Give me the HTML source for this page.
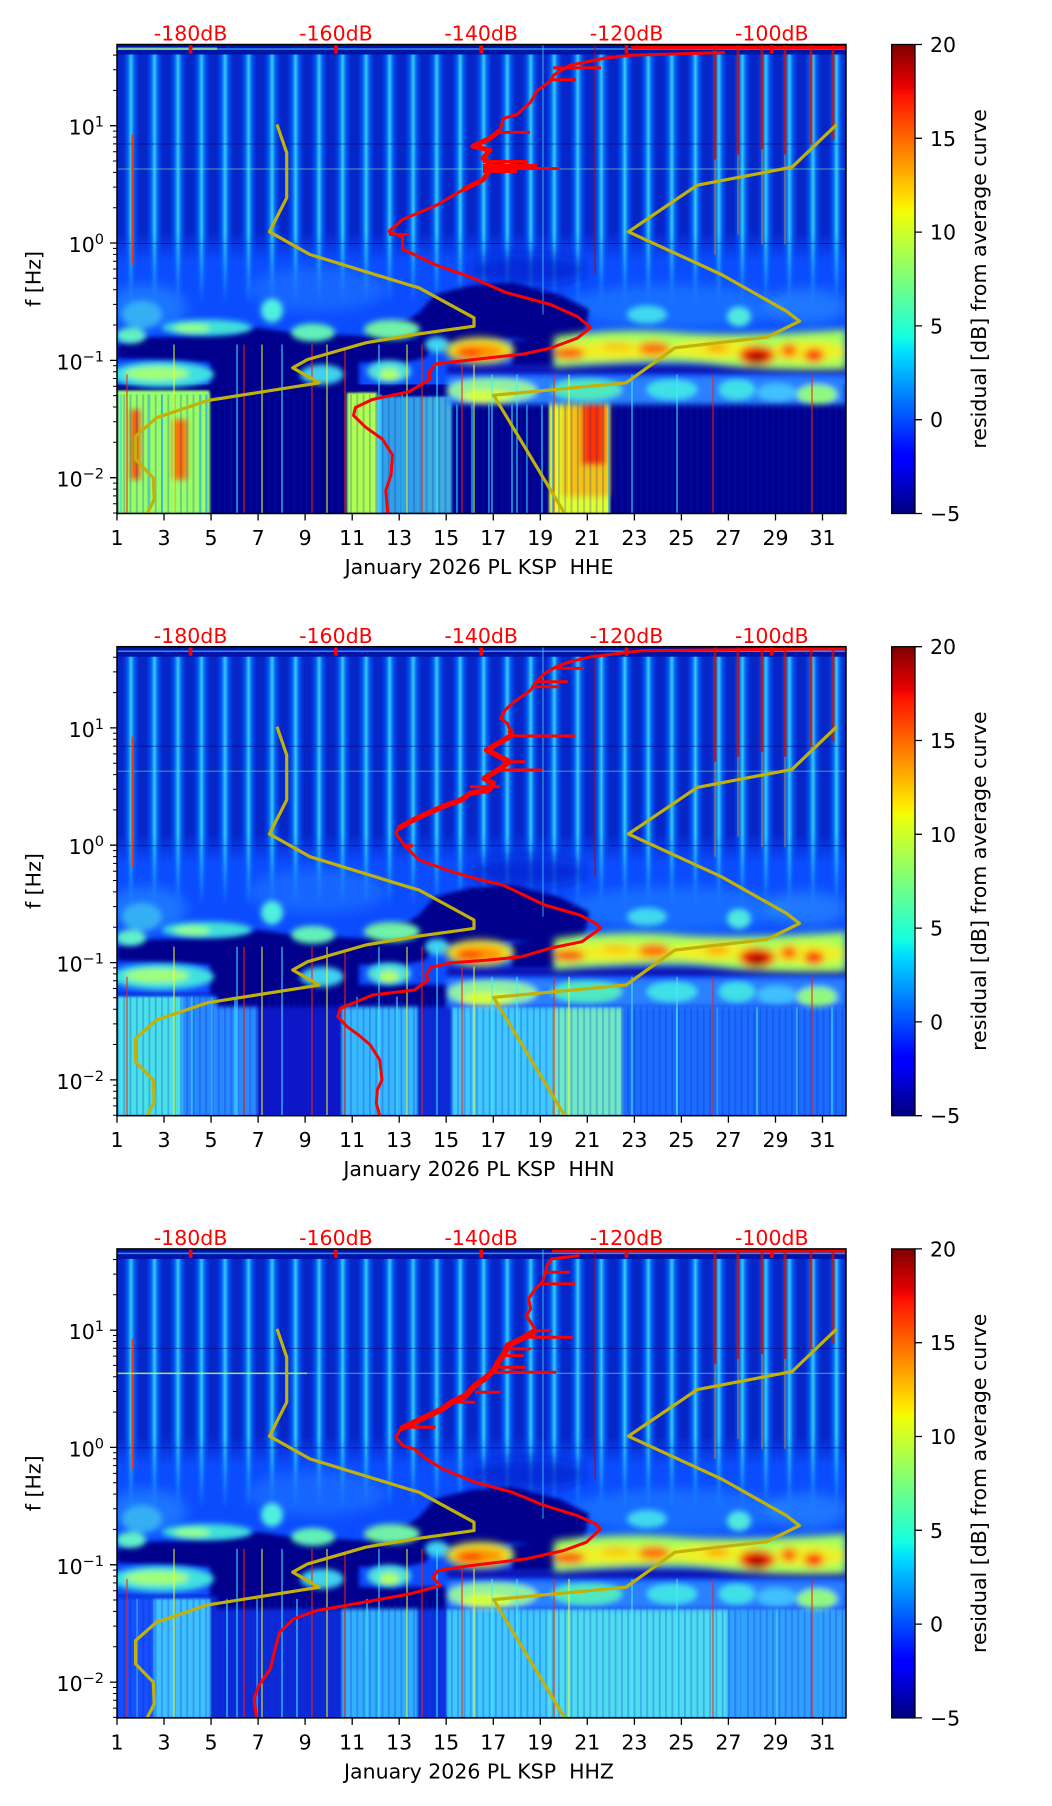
<!DOCTYPE html>
<html><head><meta charset="utf-8">
<style>
html,body{margin:0;padding:0;background:#fff}
svg{display:block}
text{font-family:"DejaVu Sans","Liberation Sans",sans-serif;font-size:20.5px;fill:#000}
</style></head>
<body>
<svg xmlns="http://www.w3.org/2000/svg" width="1052" height="1806" viewBox="0 0 1052 1806">
<defs>
  <linearGradient id="jet" x1="0" y1="1" x2="0" y2="0">
    <stop offset="0" stop-color="#00007f"/>
    <stop offset="0.11" stop-color="#0000ff"/>
    <stop offset="0.125" stop-color="#0000ff"/>
    <stop offset="0.34" stop-color="#00dbff"/>
    <stop offset="0.35" stop-color="#00e5f8"/>
    <stop offset="0.375" stop-color="#14ffe2"/>
    <stop offset="0.5" stop-color="#7bff7b"/>
    <stop offset="0.64" stop-color="#efff08"/>
    <stop offset="0.66" stop-color="#ffeb00"/>
    <stop offset="0.89" stop-color="#ff1300"/>
    <stop offset="0.91" stop-color="#e80000"/>
    <stop offset="1" stop-color="#7f0000"/>
  </linearGradient>
  <linearGradient id="sg" x1="0" y1="0" x2="1" y2="0">
    <stop offset="0" stop-color="#0040ff" stop-opacity="0"/>
    <stop offset="0.3" stop-color="#0070ff" stop-opacity="0.7"/>
    <stop offset="0.5" stop-color="#38d8ff" stop-opacity="0.95"/>
    <stop offset="0.7" stop-color="#0070ff" stop-opacity="0.7"/>
    <stop offset="1" stop-color="#0040ff" stop-opacity="0"/>
  </linearGradient>
  <linearGradient id="smg" x1="0" y1="0" x2="0" y2="1">
    <stop offset="0" stop-color="#fff"/>
    <stop offset="0.72" stop-color="#fff"/>
    <stop offset="1" stop-color="#000"/>
  </linearGradient>
  <linearGradient id="fadeg" x1="0" y1="0" x2="0" y2="1">
    <stop offset="0" stop-color="#0626c8" stop-opacity="1"/>
    <stop offset="1" stop-color="#0626c8" stop-opacity="0"/>
  </linearGradient>
  <pattern id="stripes" patternUnits="userSpaceOnUse" x="0" y="0" width="23.516" height="469">
    <rect x="5" y="0" width="18" height="469" fill="url(#sg)"/>
  </pattern>
  <pattern id="vtex" patternUnits="userSpaceOnUse" x="0" y="0" width="6.3" height="469">
    <rect x="0" y="0" width="1.8" height="469" fill="#0020c0"/>
  </pattern>
  <mask id="sm" maskUnits="userSpaceOnUse" x="0" y="0" width="729" height="469">
    <rect x="0" y="0" width="729" height="260" fill="url(#smg)"/>
  </mask>
  <clipPath id="pc"><rect x="0" y="0" width="729" height="469"/></clipPath>
  <filter id="b1" filterUnits="userSpaceOnUse" x="-50" y="-50" width="830" height="570"><feGaussianBlur stdDeviation="1"/></filter>
  <filter id="b2" filterUnits="userSpaceOnUse" x="-50" y="-50" width="830" height="570"><feGaussianBlur stdDeviation="2"/></filter>
  <filter id="b3" filterUnits="userSpaceOnUse" x="-50" y="-50" width="830" height="570"><feGaussianBlur stdDeviation="3"/></filter>
  <filter id="b4" filterUnits="userSpaceOnUse" x="-50" y="-50" width="830" height="570"><feGaussianBlur stdDeviation="4"/></filter>
  <filter id="b6" filterUnits="userSpaceOnUse" x="-50" y="-50" width="830" height="570"><feGaussianBlur stdDeviation="6"/></filter>

  <g id="upper">
    <rect x="0" y="0" width="729" height="469" fill="#0c4cff"/>
    <rect x="0" y="0" width="729" height="188" fill="#0626c8"/>
    <rect x="0" y="187" width="729" height="30" fill="url(#fadeg)"/>
    <rect x="0" y="0" width="729" height="260" fill="url(#stripes)" mask="url(#sm)"/>
    <rect x="0" y="0" width="729" height="10" fill="#0014a8"/>
    <path d="M0,4.5H729" stroke="#40c8ff" stroke-width="1.5" opacity=".7"/>
    <path d="M0,124.5H729" stroke="#70f0a0" stroke-width="1.2" opacity=".5"/>
    <path d="M0,99.5H729M0,199H729" stroke="#000070" stroke-width="1" opacity=".5"/>
  </g>

  <g id="mid">
    <g filter="url(#b6)">
      <ellipse cx="410" cy="225" rx="60" ry="16" fill="#0818c0" opacity=".6"/>
      <ellipse cx="30" cy="262" rx="40" ry="22" fill="#2a90ff" opacity=".6"/>
      <ellipse cx="200" cy="245" rx="70" ry="22" fill="#2080ff" opacity=".5"/>
      <ellipse cx="560" cy="262" rx="110" ry="22" fill="#2088ff" opacity=".55"/>
      <ellipse cx="690" cy="262" rx="40" ry="18" fill="#30a0ff" opacity=".5"/>
    </g>
    <g filter="url(#b2)">
      <path fill="#00008c" d="M0,300 L28,293 L60,292 L116,289 L140,283 L181,289 L218,290 L251,292 L253,282 L290,276 L302,268 L318,250 L353,241 L395,238 L442,250 L472,265 L468,287 L442,300 L400,294 L335,298 L316,301 L309,313 L288,318 L242,318 L242,346 L93,348 L93,318 L0,314 Z"/>
      <rect x="395" y="296" width="42" height="26" fill="#00008c"/>
      <rect x="330" y="320" width="399" height="10" fill="#0818b8"/>
    </g>
    <g filter="url(#b3)">
      <ellipse cx="14" cy="291" rx="15" ry="8" fill="#60f0c8"/>
      <ellipse cx="25" cy="270" rx="20" ry="14" fill="#40c8f0" opacity=".7"/>
      <ellipse cx="90" cy="283" rx="45" ry="8" fill="#40e0d8"/>
      <ellipse cx="75" cy="284" rx="18" ry="5" fill="#90ff90"/>
      <ellipse cx="155" cy="266" rx="11" ry="12" fill="#50f0e0"/>
      <ellipse cx="196" cy="288" rx="22" ry="9" fill="#60f0b8"/>
      <ellipse cx="275" cy="285" rx="28" ry="10" fill="#70f0a8"/>
      <ellipse cx="320" cy="300" rx="12" ry="8" fill="#40d0f0"/>
      <ellipse cx="530" cy="270" rx="20" ry="9" fill="#40d8f0"/>
      <ellipse cx="622" cy="272" rx="12" ry="10" fill="#50e8e0"/>
      <ellipse cx="45" cy="330" rx="52" ry="13" fill="#40e0e0"/>
      <ellipse cx="40" cy="329" rx="32" ry="7" fill="#a0ff78"/>
      <ellipse cx="205" cy="330" rx="22" ry="10" fill="#40d0f0"/>
      <ellipse cx="272" cy="327" rx="22" ry="11" fill="#50e0d8"/>
      <ellipse cx="272" cy="330" rx="10" ry="6" fill="#b0ff60"/>
    </g>
    <g filter="url(#b4)">
      <path d="M437,292 Q500,283 560,288 T729,285 L729,325 Q650,327 600,320 T437,323 Z" fill="#a8ff58"/>
      <ellipse cx="500" cy="306" rx="65" ry="9" fill="#f0f020"/>
      <ellipse cx="600" cy="305" rx="50" ry="9" fill="#f0f020"/>
      <ellipse cx="690" cy="307" rx="40" ry="10" fill="#f0f020"/>
      <ellipse cx="363" cy="306" rx="34" ry="13" fill="#f0f020"/>
      <ellipse cx="362" cy="307" rx="26" ry="8" fill="#ff9000"/>
      <ellipse cx="352" cy="309" rx="13" ry="5" fill="#ff3000"/>
      <ellipse cx="452" cy="309" rx="16" ry="6" fill="#ff5000"/>
      <ellipse cx="500" cy="302" rx="15" ry="4" fill="#ffc000"/>
      <ellipse cx="537" cy="304" rx="16" ry="7" fill="#ff7000"/>
      <ellipse cx="600" cy="303" rx="12" ry="5" fill="#ffa800"/>
      <ellipse cx="640" cy="311" rx="18" ry="10" fill="#f02000"/>
      <ellipse cx="640" cy="314" rx="8" ry="6" fill="#a00000"/>
      <ellipse cx="672" cy="306" rx="8" ry="7" fill="#ff6000"/>
      <ellipse cx="697" cy="311" rx="10" ry="7" fill="#ff3000"/>
    </g>
    <g filter="url(#b3)">
      <rect x="330" y="332" width="399" height="28" fill="#2a80ff"/>
      <ellipse cx="375" cy="346" rx="45" ry="13" fill="#90f0a0"/>
      <ellipse cx="370" cy="352" rx="25" ry="7" fill="#d0ff40"/>
      <ellipse cx="470" cy="345" rx="35" ry="11" fill="#50e8c0"/>
      <ellipse cx="555" cy="345" rx="25" ry="10" fill="#40e0e8"/>
      <ellipse cx="620" cy="345" rx="18" ry="10" fill="#40e0e8"/>
      <ellipse cx="660" cy="348" rx="20" ry="9" fill="#40c0ff"/>
      <ellipse cx="700" cy="350" rx="20" ry="10" fill="#90f880"/>
    </g>
  </g>

  <g id="lines" fill="none">
    <path d="M15.5,90V220" stroke="#ff3000" stroke-width="2"/>
    <path d="M478,0V230" stroke="#c00000" stroke-width="1.5" opacity=".6"/>
    <path d="M426,0V270" stroke="#40e0ff" stroke-width="1.5" opacity=".5"/>
    <path d="M598,0V115M621,0V110M645,0V105M668,0V110M694,0V100M716,0V95" stroke="#d01000" stroke-width="3" opacity=".75"/>
    <path d="M598,115V210M621,110V190M645,105V200M668,110V200" stroke="#ff9000" stroke-width="2" opacity=".4"/>
    <g stroke-width="1.2" opacity=".85">
      <path stroke="#ff2000" d="M10,330V469M127,300V469M195,300V469M228,305V469M305,300V469M345,320V469M437,330V469M596,330V469M695,330V469"/>
      <path stroke="#f0ff20" d="M57,300V469M145,300V469M210,300V469M290,300V469M357,320V469M452,330V469"/>
      <path stroke="#40f0ff" d="M120,300V469M165,300V469M262,300V469M320,300V469M375,330V469M400,330V469M515,330V469M560,330V469"/>
    </g>
  </g>

  <g id="gold" fill="none" stroke="#c0b20a" stroke-width="3.2" stroke-linejoin="round">
    <path d="M160,80 L169.7,108.3 L169.7,153.3 L152.5,187.3 L192.9,210 L290.6,240 L302,243.3 L357,273.3 L357,281.7 L297.5,290 L248.7,298.3 L190.6,315 L175.7,323.3 L202.2,338.3 L181.3,341.7 L90.7,356 L39.5,373.3 L18.6,391.7 L18.6,415 L36.3,433.3 L37.2,455 L30.2,469"/>
    <path d="M719.7,80 L675,122.7 L580.2,140.7 L511.4,187.3 L604.4,230 L669.5,266.7 L682.5,276.7 L650,292.7 L557.9,303.3 L509.1,338.3 L376.6,350.7 L447.7,469"/>
  </g>

  <g id="rticks" fill="#ff0000">
    <rect x="71.8" y="0" width="3.6" height="9"/>
    <rect x="217.1" y="0" width="3.6" height="9"/>
    <rect x="362.4" y="0" width="3.6" height="9"/>
    <rect x="507.7" y="0" width="3.6" height="9"/>
    <rect x="653" y="0" width="3.6" height="9"/>
  </g>

  <g id="axes">
    <rect x="0" y="0" width="729" height="469" fill="none" stroke="#000" stroke-width="1.5"/>
    <path stroke="#000" stroke-width="1.3" d="M-7,81.2H0M-7,198.5H0M-7,315.9H0M-7,433.2H0"/>
    <path stroke="#000" stroke-width="1" d="M-4,45.9H0M-4,25.2H0M-4,10.6H0M-4,163.2H0M-4,142.6H0M-4,127.9H0M-4,116.5H0M-4,107.2H0M-4,99.4H0M-4,92.6H0M-4,86.6H0M-4,280.5H0M-4,259.9H0M-4,245.2H0M-4,233.8H0M-4,224.5H0M-4,216.7H0M-4,209.9H0M-4,203.9H0M-4,397.8H0M-4,377.2H0M-4,362.5H0M-4,351.1H0M-4,341.8H0M-4,334H0M-4,327.2H0M-4,321.2H0M-4,438.6H0M-4,444.6H0M-4,451.4H0M-4,459.2H0M-4,468.5H0"/>
    <path stroke="#000" stroke-width="1.3" d="M0,469V476M47.03,469V476M94.06,469V476M141.1,469V476M188.1,469V476M235.2,469V476M282.2,469V476M329.2,469V476M376.3,469V476M423.3,469V476M470.3,469V476M517.4,469V476M564.4,469V476M611.4,469V476M658.5,469V476M705.5,469V476"/>
    <g text-anchor="middle">
      <text x="0" y="500.5">1</text><text x="47.03" y="500.5">3</text><text x="94.06" y="500.5">5</text><text x="141.1" y="500.5">7</text>
      <text x="188.1" y="500.5">9</text><text x="235.2" y="500.5">11</text><text x="282.2" y="500.5">13</text><text x="329.2" y="500.5">15</text>
      <text x="376.3" y="500.5">17</text><text x="423.3" y="500.5">19</text><text x="470.3" y="500.5">21</text><text x="517.4" y="500.5">23</text>
      <text x="564.4" y="500.5">25</text><text x="611.4" y="500.5">27</text><text x="658.5" y="500.5">29</text><text x="705.5" y="500.5">31</text>
    </g>
    <g text-anchor="end">
      <text x="-13" y="90.2">10<tspan dy="-8" font-size="14.5">1</tspan></text>
      <text x="-13" y="207.5">10<tspan dy="-8" font-size="14.5">0</tspan></text>
      <text x="-13" y="324.9">10<tspan dy="-8" font-size="14.5">−1</tspan></text>
      <text x="-13" y="442.2">10<tspan dy="-8" font-size="14.5">−2</tspan></text>
    </g>
    <text transform="translate(-76.5,234.4) rotate(-90)" text-anchor="middle">f [Hz]</text>
    <g text-anchor="middle">
      <text x="73.6" y="-3.8" style="fill:#ff0000">-180dB</text>
      <text x="218.9" y="-3.8" style="fill:#ff0000">-160dB</text>
      <text x="364.2" y="-3.8" style="fill:#ff0000">-140dB</text>
      <text x="509.5" y="-3.8" style="fill:#ff0000">-120dB</text>
      <text x="654.8" y="-3.8" style="fill:#ff0000">-100dB</text>
    </g>
    <rect x="774.7" y="0" width="23.3" height="469" fill="url(#jet)" stroke="#000" stroke-width="1.3"/>
    <path stroke="#000" stroke-width="1.3" d="M798,0H805M798,93.8H805M798,187.6H805M798,281.4H805M798,375.2H805M798,469H805"/>
    <text x="813" y="7.5">20</text>
    <text x="813" y="101.3">15</text>
    <text x="813" y="195.1">10</text>
    <text x="813" y="288.9">5</text>
    <text x="813" y="382.7">0</text>
    <text x="813" y="476.5">−5</text>
    <text transform="translate(869,234.4) rotate(-90)" text-anchor="middle">residual [dB] from average curve</text>
  </g>
</defs>

<rect x="0" y="0" width="1052" height="1806" fill="#fff"/>

<!-- PANEL 1 -->
<g transform="translate(117,44.5)">
  <g clip-path="url(#pc)">
    <use href="#upper"/>
    <rect x="0" y="3" width="100" height="2.5" fill="#a0ff80" opacity=".7"/>
    <rect x="0" y="340" width="729" height="129" fill="#00008e"/>
    <g filter="url(#b1)">
      <rect x="0" y="346" width="93" height="123" fill="#98ff68"/>
      <rect x="230" y="348" width="30" height="121" fill="#b0ff50"/>
      <rect x="260" y="352" width="42" height="117" fill="#40c8ff" opacity=".8"/>
      <rect x="302" y="352" width="33" height="117" fill="#50d8f0" opacity=".8"/>
      <rect x="432" y="346" width="61" height="123" fill="#e0ff30"/>
    </g>
    <g filter="url(#b3)">
      <rect x="14" y="365" width="9" height="70" fill="#ff5000"/>
      <rect x="56" y="375" width="14" height="60" fill="#ff7000"/>
      <rect x="445" y="352" width="48" height="100" fill="#ff9a00" opacity=".6"/>
      <rect x="465" y="358" width="23" height="62" fill="#ff3000"/>
    </g>
    <path d="M4,350V469M31,350V469M45,350V469M84,350V469M90,350V469M264,350V469M285,350V469M340,360V469M355,360V469M372,360V469M395,360V469M410,360V469M425,360V469M436,350V469M492,350V469" stroke="#30d8ff" stroke-width="2" opacity=".6"/>
    <rect x="0" y="350" width="729" height="119" fill="url(#vtex)" opacity=".25"/>
    <use href="#mid"/>
    <use href="#lines"/>
    <use href="#gold"/>
    <g fill="none" stroke="#ff0000" stroke-width="3" stroke-linejoin="round">
      <path d="M729,3 L514,3 M608,8 L514,10.7 L487,13.9 L453.5,20.6 L436.7,30.5 L433.4,36.4 L420,46.3 L413.2,58.2 L399.8,70 L386.3,74 L383,85.9 L373,93.8 L356,101.7 L373,105.7 L366,113.6 L376,121.5 L366,135.4 L346,145.3 L319,161 L285.6,175 L272,186.8 L285.6,192.8 L285.6,204.6 L319,220.5 L352.7,232.3 L389.7,248.2 L433.4,260 L460.3,272 L473.7,283 L460.3,293.7 L433.4,303.6 L406.5,309.5 L352.7,315.5 L319,319.4 L312.4,327.3 L312.4,335.2 L292.3,347.1 L255.3,355 L238.5,363 L236.5,370.9 L248.6,382.7 L265.4,394.6 L275.5,410.4 L274.1,430.2 L268.8,446 L270.8,469"/>
      <path d="M436,23.4H484M433,35.2H459M383,87.9H413M366,117H410M366,121H420M366,124H443M366,127H400M272,190H292"/>
      <path stroke-width="5" d="M383,85.9 L373,93.8 L356,101.7 L373,105.7 L366,113.6 L376,121.5 L366,135.4 L346,145.3"/>
    </g>
    <use href="#rticks"/>
  </g>
  <use href="#axes"/>
  <text x="362" y="529.5" text-anchor="middle" style="white-space:pre">January 2026 PL KSP  HHE</text>
</g>

<!-- PANEL 2 -->
<g transform="translate(117,646.7)">
  <g clip-path="url(#pc)">
    <use href="#upper"/>
    <rect x="0" y="345" width="729" height="124" fill="#0a3ae8"/>
    <g filter="url(#b1)">
      <rect x="0" y="350" width="65" height="119" fill="#48e0e8"/>
      <rect x="65" y="350" width="75" height="119" fill="#2a88ff"/>
      <rect x="140" y="350" width="85" height="119" fill="#0818c8"/>
      <rect x="225" y="350" width="75" height="119" fill="#38b8ff"/>
      <rect x="300" y="350" width="35" height="119" fill="#0a2ad8"/>
      <rect x="335" y="360" width="100" height="109" fill="#40c8ff"/>
      <rect x="435" y="360" width="70" height="109" fill="#70e8c8"/>
      <rect x="505" y="360" width="224" height="109" fill="#1c6cff"/>
    </g>
    <g filter="url(#b2)"><rect x="100" y="338" width="230" height="22" fill="#00008c"/></g>
    <path d="M75,350V469M95,350V469M118,350V469M240,350V469M280,350V469M560,360V469M600,360V469M640,360V469M680,360V469M715,360V469" stroke="#40d8ff" stroke-width="2" opacity=".6"/>
    <rect x="0" y="350" width="729" height="119" fill="url(#vtex)" opacity=".25"/>
    <use href="#mid"/>
    <use href="#lines"/>
    <use href="#gold"/>
    <g fill="none" stroke="#ff0000" stroke-width="3" stroke-linejoin="round">
      <path d="M729,2 L525,4 L474.2,10 L453.3,15 L439.3,20 L427.7,26.7 L420.7,33.3 L413.8,43.3 L404.5,50 L395.2,56.7 L388.2,63.3 L383.5,71.7 L390.5,76.7 L392.8,83.3 L395.2,88.3 L381.2,96.7 L369.6,103.3 L376.6,106.7 L385.9,111.7 L392.8,115 L381.2,123.3 L367.3,131.7 L376.6,136.7 L371.9,143.3 L353.3,146.7 L344,153.3 L325.4,160 L306.8,168.3 L292.9,175 L281.3,181.7 L278.9,186.7 L283.6,193.3 L288.2,200 L302.2,213.3 L330.1,223.3 L358,231.7 L385.9,238.3 L427.7,258.3 L462.6,268.3 L478.8,276.7 L483.5,281.7 L464.9,295 L432.4,301.7 L404.5,310 L371.9,313.3 L334.7,316 L313.8,320.7 L309.2,328.3 L311.5,333.3 L297.5,343.3 L255.7,348.3 L223.2,361.7 L220.8,370 L230.1,380 L241.7,388.3 L253.4,398.3 L262.7,413.3 L265,433.3 L260.3,443.3 L259.4,456.7 L262.7,469"/>
      <path d="M439,21.7H467M420,35H451M414,40H441.6M395,89.3H458M392,115H409M381,123.3H425.4M353,140H383M288,199H296"/>
      <path stroke-width="5.5" d="M392.8,83.3 L395.2,88.3 L381.2,96.7 L369.6,103.3 L376.6,106.7 L385.9,111.7 L392.8,115 L381.2,123.3 L367.3,131.7 L376.6,136.7 L371.9,143.3 L353.3,146.7 L344,153.3 L325.4,160 L306.8,168.3 L292.9,175 L281.3,181.7"/>
    </g>
    <use href="#rticks"/>
  </g>
  <use href="#axes"/>
  <text x="362" y="529.5" text-anchor="middle" style="white-space:pre">January 2026 PL KSP  HHN</text>
</g>

<!-- PANEL 3 -->
<g transform="translate(117,1248.9)">
  <g clip-path="url(#pc)">
    <use href="#upper"/>
    <rect x="0" y="345" width="729" height="124" fill="#0a3ae8"/>
    <g filter="url(#b1)">
      <rect x="0" y="350" width="37" height="119" fill="#1450ff"/>
      <rect x="37" y="350" width="56" height="119" fill="#40c0ff"/>
      <rect x="93" y="350" width="132" height="119" fill="#0a2ad8"/>
      <rect x="225" y="350" width="75" height="119" fill="#30b0ff"/>
      <rect x="300" y="350" width="30" height="119" fill="#0a30e0"/>
      <rect x="330" y="360" width="100" height="109" fill="#40c8ff"/>
      <rect x="430" y="360" width="180" height="109" fill="#50dcf0"/>
      <rect x="610" y="360" width="119" height="109" fill="#30a0ff"/>
    </g>
    <g filter="url(#b2)"><rect x="100" y="338" width="230" height="22" fill="#00008c"/></g>
    <path d="M20,350V469M110,350V469M140,350V469M180,350V469M250,350V469M625,360V469M660,360V469M700,360V469" stroke="#40d8ff" stroke-width="2" opacity=".6"/>
    <rect x="0" y="350" width="729" height="119" fill="url(#vtex)" opacity=".25"/>
    <use href="#mid"/>
    <use href="#lines"/>
    <path d="M0,124.5H190" stroke="#c0ff40" stroke-width="1.5" opacity=".8"/>
    <use href="#gold"/>
    <g fill="none" stroke="#ff0000" stroke-width="3" stroke-linejoin="round">
      <path d="M729,2 L435,2 M462.6,6.7 L434.7,10 L430,16.7 L427.7,26.7 L425.4,33.3 L418.4,40 L411.4,50 L413.8,60 L409.1,66.7 L413.8,73.3 L418.4,81.7 L404.5,90 L390.5,96.7 L388.2,103.3 L381.2,113.3 L376.6,121.7 L367.3,130 L358,136.7 L348.7,146.7 L334.7,153.3 L325.4,160 L311.5,166.7 L297.5,173.3 L283.6,180 L278.9,188.3 L285.9,196.7 L297.5,200 L306.8,208.3 L325.4,220 L358,233.3 L395.2,243.3 L427.7,256.7 L460.3,266.7 L478.8,275 L483.5,280 L469.5,293.3 L446.3,301.7 L409.1,310 L353.3,316.7 L320.8,321.7 L316.1,328.3 L323.1,336.7 L292.9,345 L255.7,351.7 L199.9,361.7 L176.7,370 L162.7,383.3 L158.1,400 L153.4,420 L141.8,436.7 L137.1,450 L139.5,469"/>
      <path d="M430,23.3H453M425,35H458M418,81.7H434.7M404,88.3H455.6M388,100H413.8M385,106.7H406.8M381,118.3H409M376,123.3H439.3M358,143.3H383.5M334,153.3H358M283,178.3H318.5"/>
      <path stroke-width="6" d="M418.4,81.7 L404.5,90 L390.5,96.7 L388.2,103.3 L381.2,113.3 L376.6,121.7 L367.3,130 L358,136.7 L348.7,146.7 L334.7,153.3 L325.4,160 L311.5,166.7 L297.5,173.3 L283.6,180"/>
    </g>
    <use href="#rticks"/>
  </g>
  <use href="#axes"/>
  <text x="362" y="529.5" text-anchor="middle" style="white-space:pre">January 2026 PL KSP  HHZ</text>
</g>
</svg>
</body></html>
